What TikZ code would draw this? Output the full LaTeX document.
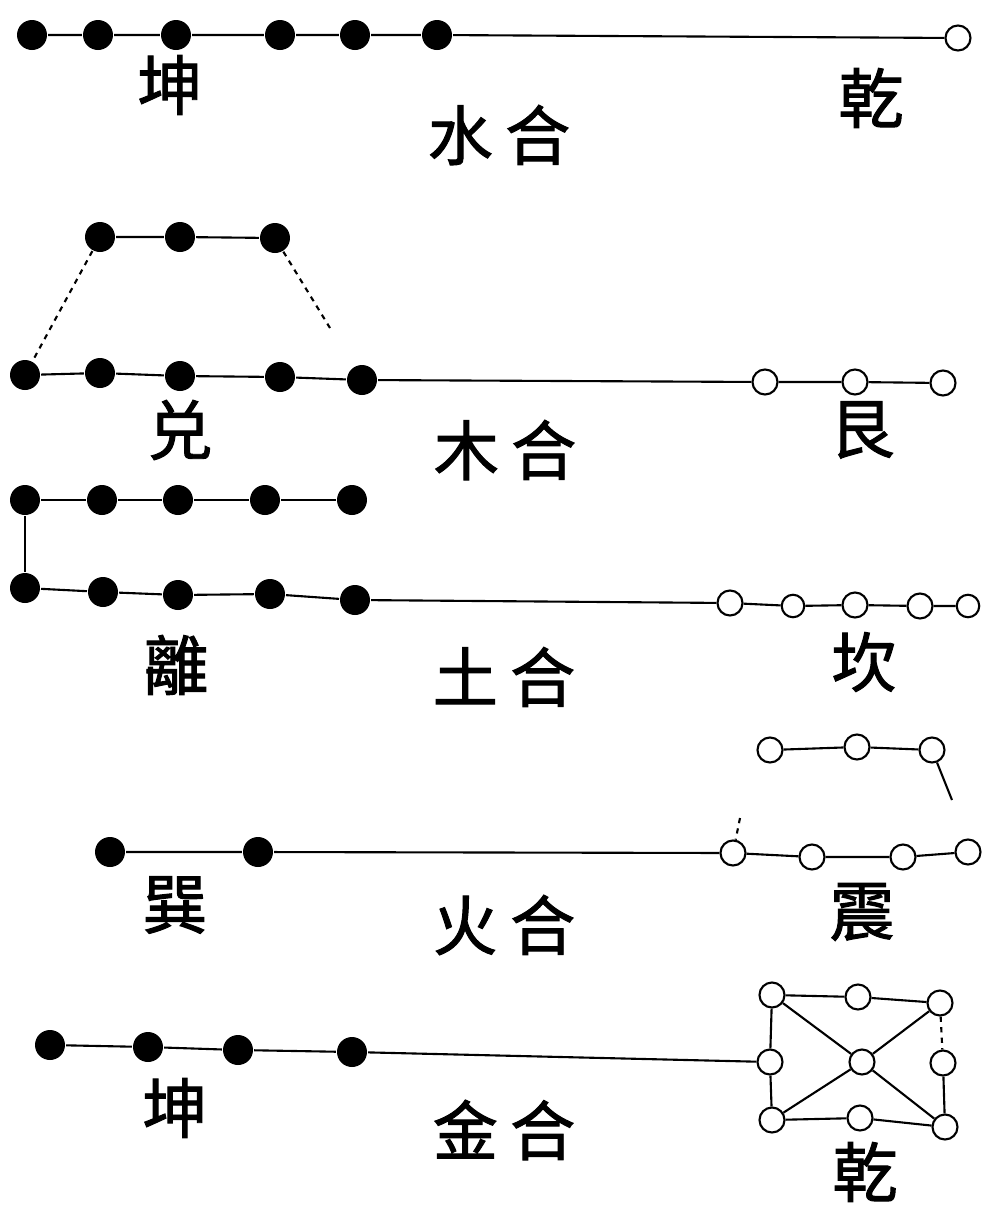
\documentclass[tikz,border=0pt]{standalone}
\usepackage{fontspec}
\newfontfamily\cjk{Noto Sans CJK TC}[FakeBold=1.5]
\usetikzlibrary{positioning}

\begin{document}
\begin{tikzpicture}[x=0.02cm, y=-0.02cm, line width=1.2pt,
    yin/.style={circle, fill=black, inner sep=0pt, minimum size=0.6cm},
    yang/.style={circle, draw, fill=white, inner sep=0pt, minimum size=0.5cm},
    lab/.style={font=\cjk\fontsize{37}{37}\selectfont}]
    \useasboundingbox (0,0) rectangle (989,1205);

    % Water
    \foreach \n/\x in {1/32, 2/98, 3/176, 4/280, 5/355, 6/437}
        \node (k\n) [yin] at (\x,35) {};
    \node (q1) [yang] at (958,38) {};
    \draw (k1) -- (k2) -- (k3) -- (k4) -- (k5) -- (k6) -- (q1);
    \node (kun1) [lab] at (170,85) {坤};
    \node (shui) [lab] at (499,135) {水\hspace{7pt}合};
    \node (qian1) [lab] at (871,98) {乾};

    % Wood
    \node (d1) [yin] at (100,237) {};
    \node (d2) [yin] at (180,237) {};
    \node (d3) [yin] at (275,238) {};
    \node (e1) [yin] at (25,375) {};
    \node (e2) [yin] at (100,373) {};
    \node (e3) [yin] at (180,376) {};
    \node (e4) [yin] at (280,377) {};
    \node (e5) [yin] at (362,380) {};
    \node (g1) [yang] at (765,382) {};
    \node (g2) [yang] at (855,382) {};
    \node (g3) [yang] at (943,383) {};
    \coordinate (c2) at (330,328);
    \draw (d1) -- (d2) -- (d3);
    \draw[dashed] (d1) -- (e1);
    \draw[dashed] (d3) -- (c2);
    \draw (e1) -- (e2) -- (e3) -- (e4) -- (e5) -- (g1) -- (g2) -- (g3);
    \node (dui) [lab] at (180,430) {兑};
    \node (mu) [lab] at (505,450) {木\hspace{7pt}合};
    \node (gen) [lab] at (862,430) {艮};

    % Earth
    \foreach \n/\x in {1/25, 2/102, 3/178, 4/265, 5/352}
        \node (l\n) [yin] at (\x,500) {};
    \node (m1) [yin] at (25,588) {};
    \node (m2) [yin] at (103,592) {};
    \node (m3) [yin] at (178,595) {};
    \node (m4) [yin] at (270,594) {};
    \node (m5) [yin] at (355,600) {};
    \node (n1) [yang] at (730,603) {};
    \node (n2) [yang, minimum size=0.45cm] at (793,606) {};
    \node (n3) [yang] at (855,605) {};
    \node (n4) [yang] at (920,606) {};
    \node (n5) [yang, minimum size=0.45cm] at (968,606) {};
    \draw (l1) -- (l2) -- (l3) -- (l4) -- (l5);
    \draw (l1) -- (m1);
    \draw (m1) -- (m2) -- (m3) -- (m4) -- (m5) -- (n1) -- (n2) -- (n3) -- (n4) -- (n5);
    \node (li) [lab] at (176,665) {離};
    \node (tu) [lab] at (504,677) {土\hspace{7pt}合};
    \node (kan) [lab] at (864,662) {坎};

    % Fire
    \node (t1) [yang] at (770,750) {};
    \node (t2) [yang] at (857,747) {};
    \node (t3) [yang] at (932,750) {};
    \coordinate (c4) at (952,800);
    \node (s1) [yin] at (110,852) {};
    \node (s2) [yin] at (258,852) {};
    \node (z1) [yang] at (733,853) {};
    \node (z2) [yang] at (812,857) {};
    \node (z3) [yang] at (903,857) {};
    \node (z4) [yang] at (968,852) {};
    \coordinate (c5) at (740,818);
    \draw (t1) -- (t2) -- (t3) -- (c4);
    \draw[dashed] (c5) -- (z1);
    \draw (s1) -- (s2) -- (z1) -- (z2) -- (z3) -- (z4);
    \node (xun) [lab] at (175,905) {巽};
    \node (huo) [lab] at (504,925) {火\hspace{7pt}合};
    \node (zhen) [lab] at (862,912) {震};

    % Metal
    \node (w1) [yin] at (50,1045) {};
    \node (w2) [yin] at (148,1047) {};
    \node (w3) [yin] at (238,1050) {};
    \node (w4) [yin] at (352,1052) {};
    \node (h1) [yang] at (772,995) {};
    \node (h2) [yang] at (858,997) {};
    \node (h3) [yang] at (940,1003) {};
    \node (h4) [yang] at (770,1062) {};
    \node (h5) [yang] at (862,1062) {};
    \node (h6) [yang] at (943,1063) {};
    \node (h7) [yang] at (772,1120) {};
    \node (h8) [yang] at (860,1118) {};
    \node (h9) [yang] at (945,1127) {};
    \draw (w1) -- (w2) -- (w3) -- (w4) -- (h4);
    \draw (h1) -- (h2) -- (h3);
    \draw (h7) -- (h8) -- (h9);
    \draw (h1) -- (h4) -- (h7);
    \draw (h1) -- (h5) -- (h9);
    \draw (h3) -- (h5) -- (h7);
    \draw[dashed] (h3) -- (h6);
    \draw (h6) -- (h9);
    \node (kun2) [lab] at (175,1108) {坤};
    \node (jin) [lab] at (504,1130) {金\hspace{7pt}合};
    \node (qian2) [lab] at (865,1172) {乾};
\end{tikzpicture}
\end{document}
